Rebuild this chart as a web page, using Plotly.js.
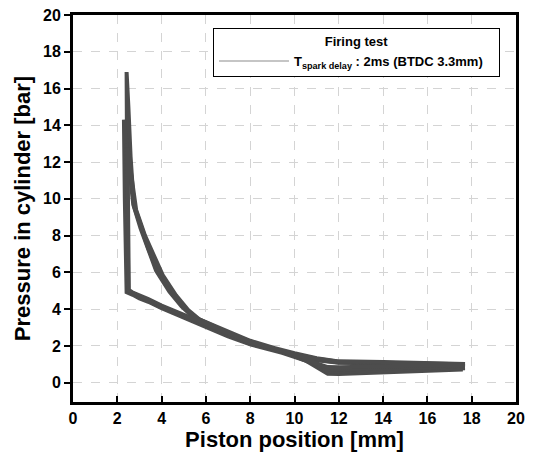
<!DOCTYPE html>
<html>
<head>
<meta charset="utf-8">
<script src="https://cdn.plot.ly/plotly-3.0.1.min.js"></script>
<style>html,body{margin:0;padding:0;background:#fff;}#chart{width:536px;height:454px;}</style>
</head>
<body>
<div id="chart"></div>
<script>
// Piston position [mm] and cylinder pressure [bar], four overlaid firing cycles
// (compression branch from BDC to TDC, combustion spike, then expansion back to BDC)
const cycle1X = [17.6, 16, 14, 12, 11, 10, 9, 8, 7, 6, 5.5, 4.9, 4.0, 3.4, 3.0, 2.7, 2.48, 2.45, 2.42, 2.5, 2.6, 2.75, 3.1, 3.4, 3.83, 4.44, 5.0, 5.5, 6, 7, 8, 9, 10, 10.5, 11, 11.5, 12, 14, 16, 17.6];
const cycle1P = [1.0, 1.05, 1.08, 1.1, 1.25, 1.5, 1.8, 2.12, 2.58, 3.08, 3.35, 3.6, 4.1, 4.45, 4.62, 4.82, 4.95, 10.0, 16.9, 15.0, 12.3, 9.6, 8.3, 7.3, 6.0, 4.9, 4.1, 3.55, 3.25, 2.68, 2.22, 1.84, 1.45, 1.2, 0.85, 0.48, 0.47, 0.55, 0.62, 0.72];

const cycle2X = [17.7, 16, 14, 12, 11, 10, 9, 8, 7, 6, 5.5, 4.9, 4.0, 3.4, 3.0, 2.7, 2.42, 2.34, 2.3, 2.4, 2.55, 2.72, 3.05, 3.35, 3.75, 4.35, 4.9, 5.4, 6, 7, 8, 9, 10, 10.5, 11, 11.5, 12, 14, 16, 17.7];
const cycle2P = [0.92, 1.0, 1.05, 1.08, 1.22, 1.45, 1.76, 2.08, 2.52, 3.03, 3.3, 3.55, 4.05, 4.4, 4.58, 4.78, 4.92, 10.0, 14.3, 13.2, 11.5, 9.7, 8.4, 7.4, 6.1, 4.95, 4.15, 3.6, 3.2, 2.64, 2.18, 1.8, 1.42, 1.2, 0.95, 0.62, 0.6, 0.65, 0.7, 0.78];

const cycle3X = [17.6, 16, 14, 12, 11, 10, 9, 8, 7, 6, 5.5, 4.9, 4.0, 3.4, 3.0, 2.7, 2.5, 2.45, 2.4, 2.5, 2.65, 2.8, 3.2, 3.5, 3.95, 4.55, 5.1, 5.6, 6, 7, 8, 9, 10, 10.5, 11, 11.5, 12, 14, 16, 17.6];
const cycle3P = [0.98, 1.02, 1.1, 1.14, 1.3, 1.55, 1.86, 2.18, 2.66, 3.16, 3.42, 3.68, 4.15, 4.5, 4.68, 4.88, 5.0, 10.3, 13.0, 12.3, 11.0, 9.5, 8.1, 7.1, 5.9, 4.8, 4.0, 3.5, 3.28, 2.72, 2.25, 1.88, 1.5, 1.28, 1.0, 0.75, 0.72, 0.78, 0.82, 0.88];

const cycle4X = [17.7, 16, 14, 12, 11, 10, 9, 8, 7, 6, 5.5, 4.9, 4.0, 3.4, 3.0, 2.7, 2.52, 2.5, 2.46, 2.55, 2.7, 2.85, 3.25, 3.6, 4.05, 4.65, 5.2, 5.7, 6, 7, 8, 9, 10, 10.5, 11, 11.5, 12, 14, 16, 17.7];
const cycle4P = [1.02, 1.08, 1.12, 1.16, 1.33, 1.6, 1.9, 2.22, 2.7, 3.2, 3.46, 3.72, 4.2, 4.55, 4.72, 4.9, 5.05, 10.2, 12.8, 12.0, 10.8, 9.4, 8.0, 7.0, 5.85, 4.75, 3.95, 3.45, 3.3, 2.76, 2.28, 1.92, 1.55, 1.35, 1.05, 0.85, 0.84, 0.9, 0.94, 0.95];

const xTicks = [0, 2, 4, 6, 8, 10, 12, 14, 16, 18, 20];
const yTicks = [0, 2, 4, 6, 8, 10, 12, 14, 16, 18, 20];
const legendTitle = 'Firing test';
const legendLabel = 'T<sub>spark delay</sub> : 2ms (BTDC 3.3mm)';

const cycles = [[cycle1X, cycle1P], [cycle2X, cycle2P], [cycle3X, cycle3P], [cycle4X, cycle4P]];
const lineColor = '#4d4d4d';
const traces = cycles.map(c => ({
  x: c[0], y: c[1], type: 'scatter', mode: 'lines',
  line: {color: lineColor, width: 4, shape: 'linear'},
  showlegend: false, hoverinfo: 'skip'
}));
// legend entry (thin gray sample line as in the reference)
traces.push({
  x: [null], y: [null], type: 'scatter', mode: 'lines',
  line: {color: '#8c8c8c', width: 1.2},
  name: '<b>' + legendLabel + '</b>&nbsp;&nbsp;&nbsp;', showlegend: true
});

const fam = '"Liberation Sans", Arial, sans-serif';
const bold = s => '<b>' + s + '</b>';

const layout = {
  width: 536, height: 454,
  margin: {l: 73, r: 20, t: 15, b: 52},
  paper_bgcolor: '#fff', plot_bgcolor: '#fff',
  font: {family: fam, color: '#000', size: 14},
  xaxis: {
    range: [0, 20], tickvals: xTicks, ticktext: xTicks.map(v => bold(String(v))),
    ticks: 'inside', ticklen: 6, tickwidth: 2, tickcolor: '#000',
    showline: true, linecolor: '#000', linewidth: 3, mirror: true,
    showgrid: true, gridcolor: '#d4d4d4', griddash: 'dash', gridwidth: 1,
    zeroline: false,
    tickfont: {family: fam, color: '#000', size: 16, weight: 'bold'},
    title: {text: bold('Piston position [mm]'), font: {family: fam, color: '#000', size: 22}, standoff: 6}
  },
  yaxis: {
    range: [-1.05, 20], tickvals: yTicks, ticktext: yTicks.map(v => bold(String(v))),
    ticks: 'outside', ticklen: 6, tickwidth: 2, tickcolor: '#000',
    showline: true, linecolor: '#000', linewidth: 3, mirror: true,
    showgrid: true, gridcolor: '#d4d4d4', griddash: 'dash', gridwidth: 1,
    zeroline: false,
    tickfont: {family: fam, color: '#000', size: 16, weight: 'bold'},
    title: {text: bold('Pressure in cylinder [bar]'), font: {family: fam, color: '#000', size: 22}, standoff: 7}
  },
  legend: {
    x: 0.316, y: 0.966, xanchor: 'left', yanchor: 'top',
    bgcolor: '#fff', bordercolor: '#000', borderwidth: 1,
    font: {family: fam, color: '#000', size: 13},
    title: {text: bold(legendTitle), side: 'top center', font: {family: fam, color: '#000', size: 13}},
    itemwidth: 70, tracegroupgap: 0
  },
  showlegend: true
};

Plotly.newPlot('chart', traces, layout, {staticPlot: true, displayModeBar: false});
</script>
</body>
</html>
